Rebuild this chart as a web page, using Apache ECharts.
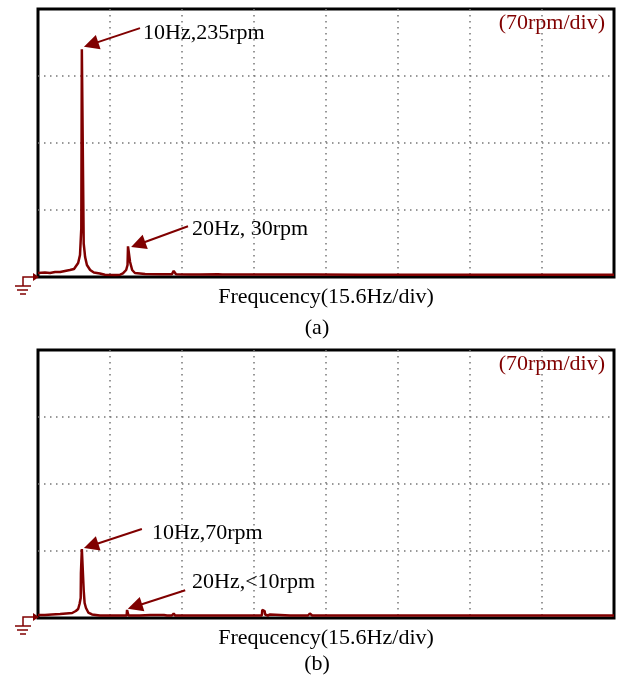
<!DOCTYPE html>
<html>
<head>
<meta charset="utf-8">
<script src="https://cdn.jsdelivr.net/npm/echarts@6/dist/echarts.min.js"></script>
<style>
  html, body { margin: 0; padding: 0; background: #fff; }
  #chart { width: 621px; height: 685px; }
</style>
</head>
<body>
<div id="chart"></div>
<script>
// frequency axis: 15.6 Hz per division, 8 divisions
const freqMax = 124.8;
const freqStep = 15.6;
// speed axis: 70 rpm per division, 4 divisions
const rpmMax = 280;
const rpmStep = 70;

// (a) spectrum
const freqA = [0, 1.5, 2.6, 3.7, 4.8, 5.85, 6.9, 7.8, 8.2, 8.7, 9.1, 9.3, 9.38, 9.45, 9.5, 9.85, 9.9, 10.1,
  10.2, 10.6, 11.3, 12.1, 13.4, 14.5, 16.7, 17.8, 18.4, 19.1, 19.4, 19.5, 19.85, 19.95, 20.4, 21.0, 23.2, 26.4,
  29.0, 29.4, 29.7, 29.9, 32.9, 35.1, 39.0, 39.4, 39.9, 43.8, 48.75, 49.1, 49.4, 54.6, 59.4, 59.6, 59.9,
  69.8, 80.6, 98.8, 99.1, 99.4, 113.1, 124.8];
const rpmA = [4.2, 4.7, 4.2, 5.2, 5.2, 6.3, 7.3, 8.4, 10.4, 14.6, 23, 25, 51, 51, 238, 238, 35, 26,
  21, 12.5, 7.3, 4.7, 3.7, 2.4, 2.2, 2.4, 3.7, 7.3, 12.5, 32, 32, 15.7, 7.3, 4.2, 3.1, 2.8,
  2.8, 6.3, 6.3, 2.8, 2.5, 2.5, 2.8, 3.3, 2.5, 2.5, 2.5, 4.2, 2.6, 2.5, 2.5, 3.7, 2.5,
  2.4, 2.4, 2.4, 3.5, 2.4, 2.4, 2.4];

// (b) spectrum
const freqB = [0, 1.5, 3.0, 4.8, 6.1, 7.4, 8.2, 8.7, 9.0, 9.25, 9.3, 9.4, 9.5, 9.85, 9.9, 10.1, 10.4, 10.9,
  11.7, 13.4, 15.6, 17.8, 19.2, 19.3, 19.5, 19.6, 22.1, 24.3, 27.3, 27.6, 27.95, 29.0, 29.4, 29.7, 35.1,
  38.8, 39.1, 39.4, 45.9, 48.5, 48.6, 49.1, 49.2, 49.8, 50.3, 50.7, 54.6, 58.5, 58.9, 59.4, 68.5, 68.7,
  68.9, 78.2, 78.4, 78.6, 89.3, 117.9, 118.1, 118.3, 124.8];
const rpmB = [3.1, 3.1, 3.7, 4.2, 4.7, 5.2, 7.3, 9.4, 14.6, 21, 47, 47, 72, 72, 29, 15.7, 10.4, 5.7,
  3.7, 2.6, 2.6, 2.6, 2.6, 8.4, 8.4, 2.6, 2.6, 3.1, 3.1, 4.2, 2.6, 2.6, 4.7, 2.6, 2.6,
  2.6, 4.2, 2.6, 2.6, 2.6, 8.4, 7.3, 3.7, 2.6, 3.7, 2.6, 2.6, 2.6, 4.7, 2.6, 2.6, 3.7,
  2.6, 2.6, 3.7, 2.6, 2.6, 2.6, 4.2, 2.6, 2.6];

// annotation arrows: [fromHz, fromRpm, toHz, toRpm]
const arrowsA = [[22.1, 260, 11.5, 243], [32.5, 53, 21.7, 34]];
const arrowsB = [[22.5, 93, 11.5, 75.5], [31.9, 29, 21.0, 12]];

const red = '#800000';
const serif = '"Liberation Serif", "Times New Roman", serif';

function zip(xs, ys) {
    return xs.map((x, i) => [x, ys[i]]);
}

function arrowLines(list) {
    return list.map(a => [{ coord: [a[0], a[1]] }, { coord: [a[2], a[3]] }]);
}

function gridBox(top) {
    return {
        show: true, left: 38, top: top, width: 576, height: 268,
        borderColor: '#000', borderWidth: 3, backgroundColor: 'transparent'
    };
}

function xAx(idx) {
    return {
        type: 'value', gridIndex: idx, min: 0, max: freqMax, interval: freqStep,
        name: 'Frequcency(15.6Hz/div)', nameLocation: 'middle', nameGap: 9,
        nameTextStyle: { fontFamily: serif, fontSize: 22, color: '#000' },
        axisLine: { show: false }, axisTick: { show: false }, axisLabel: { show: false },
        splitLine: { show: true, showMinLine: false, showMaxLine: false,
            lineStyle: { color: '#777', width: 1.5, type: [1.5, 4.5] } }
    };
}

function yAx(idx) {
    return {
        type: 'value', gridIndex: idx, min: 0, max: rpmMax, interval: rpmStep,
        axisLine: { show: false }, axisTick: { show: false }, axisLabel: { show: false },
        splitLine: { show: true, showMinLine: false, showMaxLine: false,
            lineStyle: { color: '#777', width: 1.5, type: [1.5, 4.5] } }
    };
}

function spectrum(idx, xs, ys, arrows) {
    return {
        type: 'line', xAxisIndex: idx, yAxisIndex: idx,
        data: zip(xs, ys), showSymbol: false, smooth: false,
        lineStyle: { color: red, width: 2.5 },
        markLine: {
            silent: true, symbol: ['none', 'triangle'], symbolSize: 15,
            lineStyle: { color: red, width: 2, type: 'solid' },
            itemStyle: { color: red },
            label: { show: false },
            data: arrowLines(arrows)
        }
    };
}

function ground(y) {
    return {
        type: 'group', children: [
            { type: 'polyline', shape: { points: [[23, y + 9], [23, y], [34, y]] }, style: { stroke: red, lineWidth: 1.5, fill: null } },
            { type: 'polygon', shape: { points: [[33, y - 4], [39, y], [33, y + 4]] }, style: { fill: red } },
            { type: 'line', shape: { x1: 15, y1: y + 9, x2: 31, y2: y + 9 }, style: { stroke: red, lineWidth: 1.5 } },
            { type: 'line', shape: { x1: 17, y1: y + 13, x2: 28, y2: y + 13 }, style: { stroke: red, lineWidth: 1.5 } },
            { type: 'line', shape: { x1: 20, y1: y + 17, x2: 26, y2: y + 17 }, style: { stroke: red, lineWidth: 1.5 } }
        ]
    };
}

function txt(x, y, s, opts) {
    return {
        type: 'text', x: x, y: y, z: 10,
        style: Object.assign({ text: s, font: '22px ' + serif, fill: '#000', verticalAlign: 'middle', align: 'left' }, opts || {})
    };
}

let chart = echarts.init(document.getElementById('chart'));
chart.setOption({
    animation: false,
    backgroundColor: '#fff',
    grid: [gridBox(9), gridBox(350)],
    xAxis: [xAx(0), xAx(1)],
    yAxis: [yAx(0), yAx(1)],
    series: [
        spectrum(0, freqA, rpmA, arrowsA),
        spectrum(1, freqB, rpmB, arrowsB)
    ],
    graphic: [
        txt(143, 33, '10Hz,235rpm'),
        txt(192, 229, '20Hz, 30rpm'),
        txt(605, 23, '(70rpm/div)', { fill: red, align: 'right' }),
        txt(152, 533, '10Hz,70rpm'),
        txt(192, 582, '20Hz,<10rpm'),
        txt(605, 364, '(70rpm/div)', { fill: red, align: 'right' }),
        txt(317, 328, '(a)', { align: 'center' }),
        txt(317, 664, '(b)', { align: 'center' }),
        ground(277),
        ground(617)
    ]
});
window.addEventListener('resize', function () {
    chart.resize();
});
</script>
</body>
</html>
